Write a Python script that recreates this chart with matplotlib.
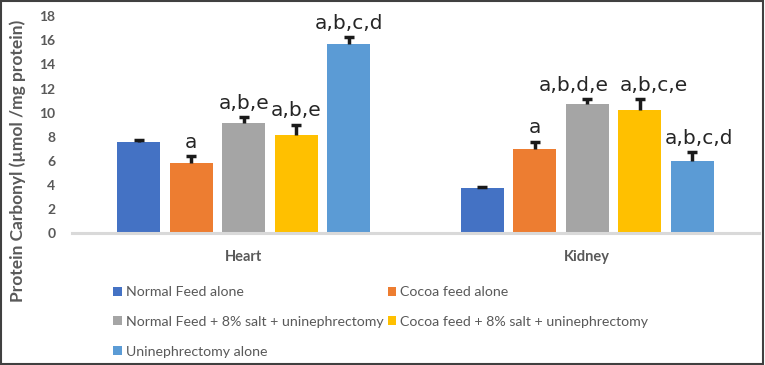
import numpy as np
import matplotlib
matplotlib.use('Agg')
import matplotlib.pyplot as plt
from matplotlib.patches import Rectangle

# data
organs = ['Heart', 'Kidney']
groups = ['Normal Feed alone', 'Cocoa feed alone',
          'Normal Feed + 8% salt + uninephrectomy',
          'Cocoa feed + 8% salt + uninephrectomy',
          'Uninephrectomy alone']
normal_feed = [7.6, 3.7]
cocoa_feed = [5.8, 7.0]
normal_salt_unx = [9.1, 10.7]
cocoa_salt_unx = [8.1, 10.2]
unx_alone = [15.7, 6.0]
err_normal_feed = [0.1, 0.1]
err_cocoa_feed = [0.6, 0.6]
err_normal_salt_unx = [0.5, 0.4]
err_cocoa_salt_unx = [0.9, 0.9]
err_unx_alone = [0.6, 0.7]
sig_normal_feed = ['', '']
sig_cocoa_feed = ['a', 'a']
sig_normal_salt_unx = ['a,b,e', 'a,b,d,e']
sig_cocoa_salt_unx = ['a,b,e', 'a,b,c,e']
sig_unx_alone = ['a,b,c,d', 'a,b,c,d']

series = [normal_feed, cocoa_feed, normal_salt_unx, cocoa_salt_unx, unx_alone]
errors = [err_normal_feed, err_cocoa_feed, err_normal_salt_unx, err_cocoa_salt_unx, err_unx_alone]
sigs = [sig_normal_feed, sig_cocoa_feed, sig_normal_salt_unx, sig_cocoa_salt_unx, sig_unx_alone]
colors = ['#4472C4', '#ED7D31', '#A5A5A5', '#FFC000', '#5B9BD5']
# label nudges (points) so the crowded kidney labels don't collide, as in the original
nudge = {(2, 1): -10, (3, 1): 10, (4, 1): 5}

TXT = '#595959'
fig = plt.figure(figsize=(7.65, 3.65), dpi=100)
ax = fig.add_axes([72 / 765, 1 - 233 / 365, 687 / 765, 216.7 / 365])

x = np.arange(len(organs))
step, width = 0.153, 0.125
handles = []
for i, (vals, err, sig, c) in enumerate(zip(series, errors, sigs, colors)):
    xs = x + (i - 2) * step
    b = ax.bar(xs, vals, width, color=c, label=groups[i], zorder=2)
    handles.append(b)
    eb = ax.errorbar(xs, vals, yerr=[np.zeros(len(err)), err], fmt='none', ecolor='#1a1a1a',
                     elinewidth=2.5, capsize=3.5, capthick=2.5, zorder=3)
    eb[1][0].set_visible(False)  # only the upper cap
    for j, (xi, v, e, s) in enumerate(zip(xs, vals, err, sig)):
        if s:
            ax.annotate(s, (xi, v + e), xytext=(nudge.get((i, j), 0), 3), textcoords='offset points',
                        ha='center', va='bottom', fontsize=14.5, color='#262626',
                        family='DejaVu Sans')

ax.set_xlim(-0.5, 1.5)
ax.set_ylim(0, 18)
ax.set_yticks(np.arange(0, 19, 2))
ax.set_xticks(x)
ax.set_xticklabels(organs)
for sp in ['top', 'right', 'left']:
    ax.spines[sp].set_visible(False)
ax.spines['bottom'].set_color('#D9D9D9')
ax.spines['bottom'].set_linewidth(2.2)
ax.tick_params(axis='both', length=0, colors=TXT)
ax.tick_params(axis='y', pad=12)
ax.tick_params(axis='x', pad=12)
for t in ax.get_yticklabels():
    t.set_fontfamily('Lato'); t.set_fontweight('bold'); t.set_fontsize(10)
for t in ax.get_xticklabels():
    t.set_fontfamily('Lato'); t.set_fontweight('bold'); t.set_fontsize(10.5)

fig.text(18 / 765, 1 - 161 / 365, 'Protein Carbonyl (µmol /mg protein)', rotation=90,
         ha='center', va='center', fontsize=12.5, fontweight='bold', color=TXT, family='Lato')

order = [0, 2, 4, 1, 3]
leg = fig.legend([handles[k] for k in order], [groups[k] for k in order], ncol=2,
                 loc='upper left', bbox_to_anchor=(106 / 765, 1 - 279 / 365),
                 frameon=False, borderpad=0, handlelength=0.6, handleheight=0.6,
                 handletextpad=0.3, columnspacing=0.3, labelspacing=1.25,
                 prop={'family': 'Lato', 'size': 10.2})
for t in leg.get_texts():
    t.set_color(TXT)

fig.patches.append(Rectangle((0.001, 0.002), 0.997, 0.995, transform=fig.transFigure,
                             fill=False, edgecolor='#404040', linewidth=1.5))

fig.savefig('out.png', dpi=100)
